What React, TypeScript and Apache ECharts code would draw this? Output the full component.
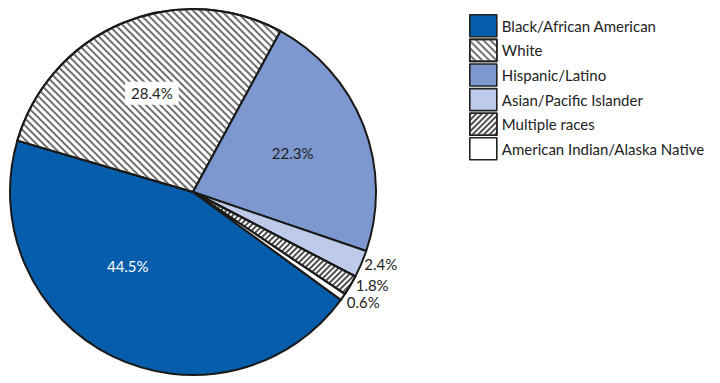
import React, { useEffect, useRef } from "react";
import * as echarts from "echarts";

const categories = [
  "Black/African American",
  "White",
  "Hispanic/Latino",
  "Asian/Pacific Islander",
  "Multiple races",
  "American Indian/Alaska Native",
];
const values = [44.5, 28.4, 22.3, 2.4, 1.8, 0.6];
const colors = ["#065dab", "#ffffff", "#7d98cf", "#bdcaea", "#ffffff", "#ffffff"];
const insideLabelColors = ["#ffffff", "#222222", "#222222", "", "", ""];

const FONT = "Lato";

export default function App() {
  const ref = useRef<HTMLDivElement>(null);
  useEffect(() => {
    document.body.style.margin = "0";
    const chart = echarts.init(ref.current!, null, { renderer: "svg" });
    const fmt = (p: any) => p.value.toFixed(1) + "%";
    const data = categories.map((name, i) => {
      const d: any = {
        name,
        value: values[i],
        itemStyle: { color: colors[i] },
      };
      if (i === 1) {
        d.itemStyle.decal = {
          color: "#707070",
          backgroundColor: "#ffffff",
          symbol: "rect",
          dashArrayX: [1, 0],
          dashArrayY: [1.2, 2.4],
          rotation: Math.PI / 4,
          symbolSize: 1,
        };
      }
      if (i === 4) {
        d.itemStyle.decal = {
          color: "#505050",
          backgroundColor: "#ffffff",
          symbol: "rect",
          dashArrayX: [1, 0],
          dashArrayY: [1.6, 2],
          rotation: -Math.PI / 4,
          symbolSize: 1,
        };
      }
      if (i < 3) {
        d.label = { show: false };
      }
      return d;
    });
    const labelData = categories.map((name, i) => ({
      name,
      value: values[i],
      label:
        i < 3
          ? {
              show: true,
              color: insideLabelColors[i],
              backgroundColor: i === 1 ? "#ffffff" : "transparent",
              padding: i === 1 ? [4, 6] : 0,
              offset: i === 0 ? [-18, -22] : [0, 0],
            }
          : { show: false },
    }));
    chart.setOption({
      animation: false,
      legend: {
        orient: "vertical",
        left: 469,
        top: 14,
        padding: 0,
        itemWidth: 27,
        itemHeight: 22,
        itemGap: 1,
        icon: "rect",
        data: categories,
        textStyle: { fontFamily: FONT, fontSize: 15, color: "#222", lineHeight: 18 },
        itemStyle: { borderColor: "#222", borderWidth: 1.6 },
      },
      series: [
        {
          type: "pie",
          center: [193, 192],
          radius: 183,
          startAngle: -36.1,
          clockwise: true,
          avoidLabelOverlap: true,
          itemStyle: { borderColor: "#1a1a1a", borderWidth: 2 },
          label: {
            position: "outside",
            formatter: fmt,
            fontFamily: FONT,
            fontSize: 15,
            color: "#222",
            distanceToLabelLine: 4,
          },
          labelLine: { show: false, length: 0, length2: 0 },
          data,
        },
        {
          type: "pie",
          center: [193, 192],
          radius: [25, 183],
          startAngle: -36.1,
          clockwise: true,
          silent: true,
          legendHoverLink: false,
          itemStyle: { color: "transparent", borderWidth: 0 },
          label: {
            position: "inside",
            formatter: fmt,
            fontFamily: FONT,
            fontSize: 15,
          },
          labelLine: { show: false },
          data: labelData,
        },
      ],
    });
    return () => chart.dispose();
  }, []);
  return <div ref={ref} style={{ width: 720, height: 383 }} />;
}
